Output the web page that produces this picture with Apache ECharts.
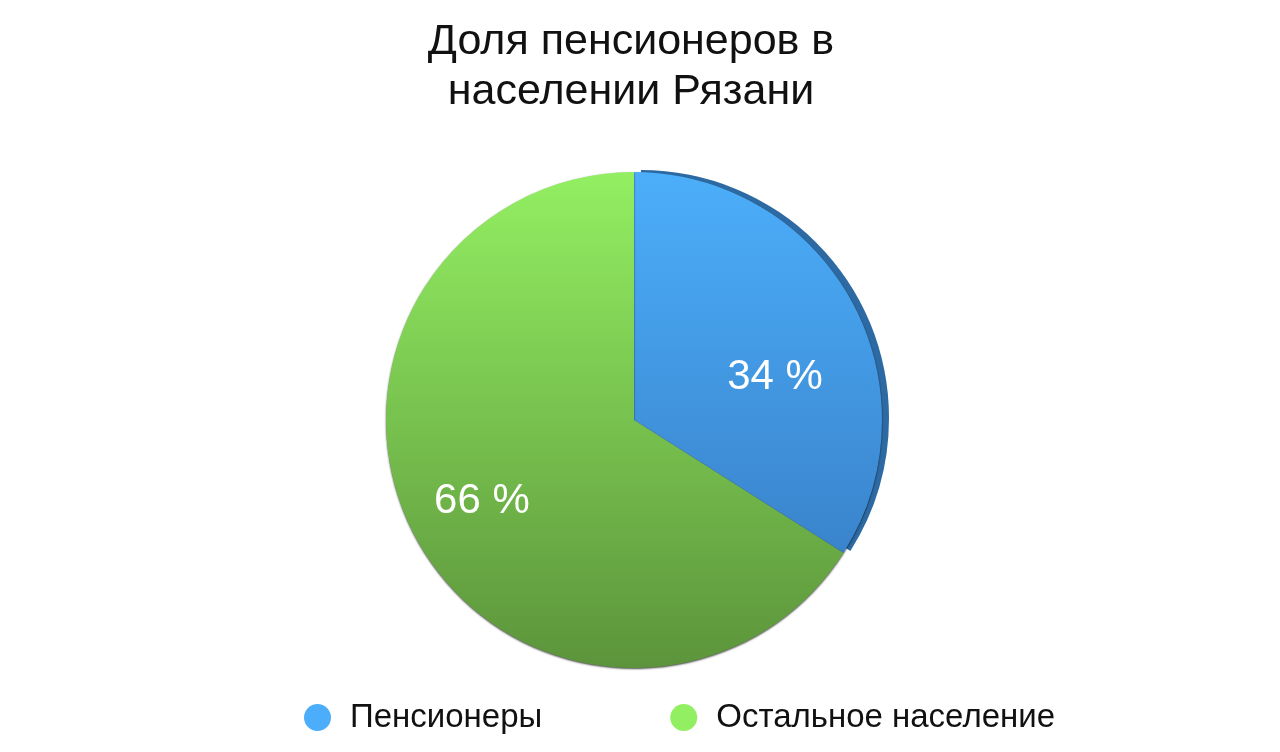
<!DOCTYPE html>
<html><head><meta charset="utf-8">
<script src="https://cdn.jsdelivr.net/npm/echarts@6/dist/echarts.min.js"></script>
<style>html,body{margin:0;padding:0;background:#fff}#c{width:1280px;height:752px}</style>
</head><body><div id="c"></div>
<script>
const titleText = 'Доля пенсионеров в\nнаселении Рязани';
const categories = ['Пенсионеры', 'Остальное население'];
const values = [34, 66];

const FONT = '"Liberation Sans", Arial, Helvetica, sans-serif';
const CX = 634, CY = 420, R = 248;
const grad = (top, bottom) => new echarts.graphic.LinearGradient(0, CY - R, 0, CY + R, [
  {offset: 0, color: top}, {offset: 1, color: bottom}], true);
const fills = [grad('#4caefa', '#3477be'), grad('#93ef62', '#5c943b')];
const labelOffsets = [[0, 35], [-11, 4]];

const chart = echarts.init(document.getElementById('c'), null, {renderer: 'canvas'});
chart.setOption({
  animation: false,
  backgroundColor: '#fff',
  title: {
    text: titleText, left: 631, textAlign: 'center', top: 17, padding: 0,
    textStyle: {fontFamily: FONT, fontSize: 43, fontWeight: 'normal', color: '#111', lineHeight: 50}
  },
  legend: {
    bottom: 13, left: 299, icon: 'circle', itemWidth: 27, itemHeight: 27, itemGap: 128,
    data: categories,
    textStyle: {fontFamily: FONT, fontSize: 33, color: '#111', padding: [0, 0, 0, 14]}
  },
  series: [
    {
      // rim (3D edge) behind the blue slice
      type: 'pie', silent: true, center: [CX + 7, CY - 2], radius: [0, R],
      startAngle: 90, clockwise: true, label: {show: false}, labelLine: {show: false},
      legendHoverLink: false,
      data: categories.map((n, i) => ({value: values[i], name: n + ' rim',
        itemStyle: {color: i === 0 ? '#2d6aa3' : 'rgba(0,0,0,0)'}}))
    },
    {
      type: 'pie', center: [CX, CY], radius: [0, R], startAngle: 90, clockwise: true,
      label: {show: false}, labelLine: {show: false},
      itemStyle: {shadowBlur: 2, shadowOffsetY: 1, shadowColor: 'rgba(0,0,0,0.7)'},
      data: categories.map((n, i) => ({value: values[i], name: n, itemStyle: {color: fills[i]}}))
    },
    {
      // label carrier
      type: 'pie', silent: true, center: [CX, CY], radius: [68, R], startAngle: 90, clockwise: true,
      legendHoverLink: false,
      label: {show: true, position: 'inside', formatter: '{c} %', color: '#fff',
        fontFamily: FONT, fontSize: 42},
      labelLine: {show: false},
      data: categories.map((n, i) => ({value: values[i], name: n + ' lbl',
        label: {offset: labelOffsets[i]},
        itemStyle: {color: 'rgba(0,0,0,0)'}}))
    }
  ],
  color: ['#419ff0', '#7ccd4e']
});
</script></body></html>
